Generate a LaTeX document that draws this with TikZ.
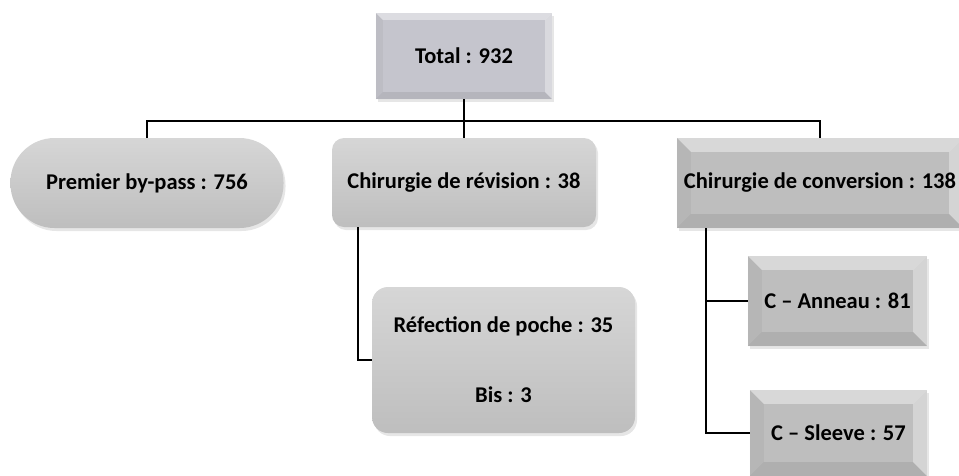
\documentclass[tikz,border=0pt]{standalone}
\usepackage{fontspec}
\setmainfont{Carlito}
\usetikzlibrary{calc,shadows}
\definecolor{boxgray}{RGB}{190,190,190}
\definecolor{boxtop}{RGB}{214,214,214}
\definecolor{totalgray}{RGB}{197,197,205}
\newcommand{\bevel}[2]{%
  \fill[white,opacity=.4] (#1.north west) -- (#1.north east) -- ($(#1.north east)+(-#2,-#2)$) -- ($(#1.north west)+(#2,-#2)$) -- cycle;
  \fill[black,opacity=.04] (#1.north west) -- (#1.south west) -- ($(#1.south west)+(#2,#2)$) -- ($(#1.north west)+(#2,-#2)$) -- cycle;
  \fill[white,opacity=.35] (#1.north east) -- (#1.south east) -- ($(#1.south east)+(-#2,#2)$) -- ($(#1.north east)+(-#2,-#2)$) -- cycle;
  \fill[black,opacity=.08] (#1.south west) -- (#1.south east) -- ($(#1.south east)+(-#2,#2)$) -- ($(#1.south west)+(#2,#2)$) -- cycle;}
\begin{document}
\begin{tikzpicture}[x=1pt,y=-1pt,
    font=\fontsize{22.5}{26}\selectfont\bfseries,
    bevelbox/.style={rectangle, fill=boxgray, inner sep=0pt, drop shadow={opacity=.2,shadow xshift=2pt,shadow yshift=-3pt}},
    roundbox/.style={rectangle, top color=boxtop, bottom color=boxgray, inner sep=0pt, drop shadow={opacity=.2,shadow xshift=2pt,shadow yshift=-3pt}},
    link/.style={line width=2.6pt}]
    \useasboundingbox (0,0) rectangle (959,475);

    \node[bevelbox, fill=totalgray, minimum width=176pt, minimum height=86pt] (total) at (464,56) {};
    \node[roundbox, rounded corners=44pt, minimum width=273pt, minimum height=90pt] (premier) at (147,183) {};
    \node[roundbox, rounded corners=12pt, minimum width=264pt, minimum height=89pt] (revision) at (464,182.5) {};
    \node[bevelbox, minimum width=286pt, minimum height=90pt] (conversion) at (820,183) {};
    \node[roundbox, rounded corners=16pt, minimum width=263pt, minimum height=146pt] (refection) at (503.5,360) {};
    \node[bevelbox, minimum width=179pt, minimum height=90pt] (anneau) at (837.5,301) {};
    \node[bevelbox, minimum width=177pt, minimum height=86pt] (sleeve) at (838.5,433) {};

    \bevel{total}{7pt}
    \bevel{conversion}{14pt}
    \bevel{anneau}{14pt}
    \bevel{sleeve}{14pt}

    \node at (total) {Total : 932};
    \node at (premier) {Premier by-pass : 756};
    \node at (revision) {Chirurgie de révision : 38};
    \node at (conversion) {Chirurgie de conversion : 138};
    \node[align=center] at (refection) {Réfection de poche : 35\\[44pt]Bis : 3};
    \node at (anneau) {C – Anneau : 81};
    \node at (sleeve) {C – Sleeve : 57};

    \coordinate (bus) at (464,121);
    \draw[link] (total.south) -- (revision.north);
    \draw[link] (premier.north) -- (premier.north |- bus) -- (conversion.north |- bus) -- (conversion.north);
    \draw[link] ($(revision.south west)+(26pt,0)$) |- (refection.west);
    \draw[link] ($(conversion.south west)+(29pt,0)$) |- (anneau.west);
    \draw[link] ($(conversion.south west)+(29pt,0)$) |- (sleeve.west);
\end{tikzpicture}
\end{document}
